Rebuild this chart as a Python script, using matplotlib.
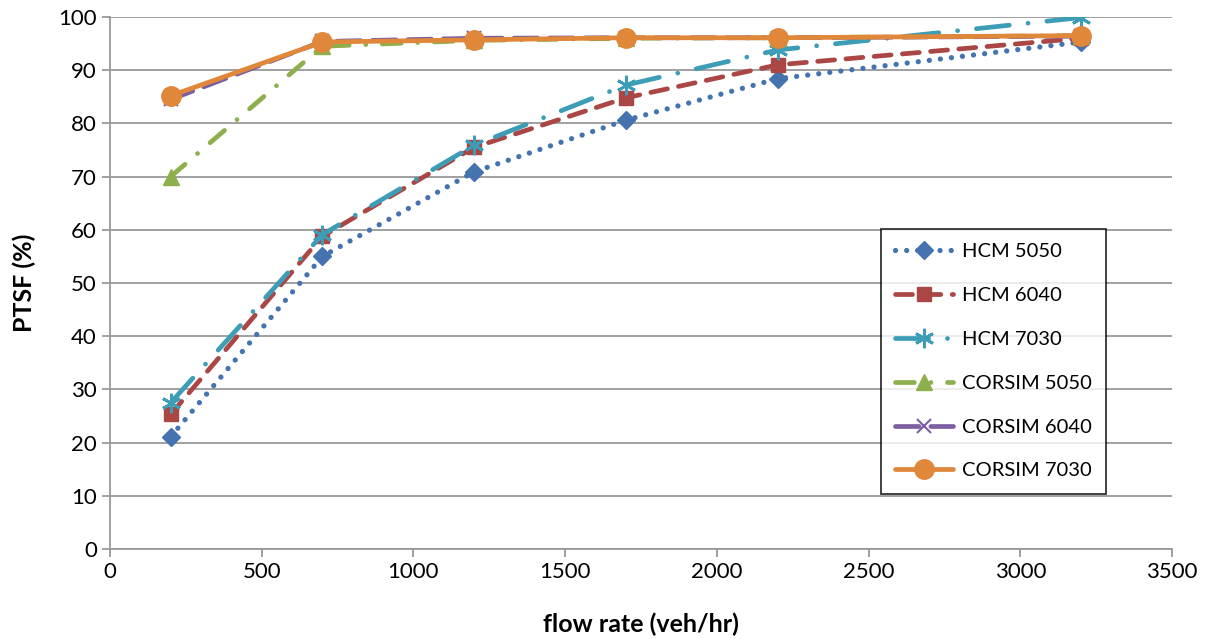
import matplotlib.pyplot as plt
import numpy as np

# data
flow = [200, 700, 1200, 1700, 2200, 3200]
hcm_5050 = [21.1, 55.0, 70.9, 80.6, 88.4, 95.3]
hcm_6040 = [25.3, 58.8, 75.5, 84.8, 91.0, 96.0]
hcm_7030 = [27.5, 59.1, 75.9, 87.2, 93.8, 99.9]
corsim_5050 = [70.0, 94.5, 95.6, 96.0, 96.1, 96.5]
corsim_6040 = [84.5, 95.4, 96.0, 96.1, 96.1, 96.4]
corsim_7030 = [85.2, 95.3, 95.7, 96.1, 96.1, 96.5]

plt.rcParams['font.family'] = ['Lato', 'DejaVu Sans']

fig = plt.figure(figsize=(12.07, 6.39), dpi=100)
ax = fig.add_axes([110/1207, 1 - 549/639, 1062/1207, 532/639])

lw = 3.4
ax.plot(flow, hcm_5050, color='#4573B0', lw=3.8, dashes=(0.01, 2.1), dash_capstyle='round',
        marker='D', ms=9, label='HCM 5050')
ax.plot(flow, hcm_6040, color='#AA4643', lw=lw, dashes=(3.6, 2.4), dash_capstyle='round',
        marker='s', ms=10, label='HCM 6040')
ax.plot(flow, hcm_7030, color='#3E9DB6', lw=lw, dashes=(7, 4, 0.01, 4), dash_capstyle='round',
        marker=(6, 2, 0), ms=14, mew=2, label='HCM 7030')
ax.plot(flow, corsim_5050, color='#8DB04C', lw=lw, dashes=(4, 3.5, 0.01, 3.5), dash_capstyle='round',
        marker='^', ms=11, label='CORSIM 5050')
ax.plot(flow, corsim_6040, color='#7B5FA2', lw=lw, dashes=(5, 2.5), dash_capstyle='round',
        marker='x', ms=10, mew=1.5, label='CORSIM 6040')
ax.plot(flow, corsim_7030, color='#E0873A', lw=lw, solid_capstyle='round',
        marker='o', ms=14, label='CORSIM 7030')

ax.set_xlim(0, 3500)
ax.set_ylim(0, 100)
ax.set_xticks(np.arange(0, 3501, 500))
ax.set_yticks(np.arange(0, 101, 10))
ax.yaxis.grid(True, color='#999999', lw=1.3)
ax.set_axisbelow(True)
for s in ['top', 'right']:
    ax.spines[s].set_visible(False)
for s in ['left', 'bottom']:
    ax.spines[s].set_color('#999999')
    ax.spines[s].set_linewidth(1.3)
ax.tick_params(axis='both', labelsize=16, color='#999999', length=6, width=1.3)
ax.set_xlabel('flow rate (veh/hr)', fontsize=18, fontweight='bold', labelpad=22)
ax.set_ylabel('PTSF (%)', fontsize=18, fontweight='bold', labelpad=16)

leg = ax.legend(loc='center', bbox_to_anchor=(0.832, 0.353),
                fontsize=14.5, frameon=True, fancybox=False, edgecolor='black',
                handlelength=2.9, labelspacing=1.33, borderpad=0.7, handletextpad=0.45)
leg.get_frame().set_linewidth(1.3)

fig.savefig('out.png', dpi=100)
